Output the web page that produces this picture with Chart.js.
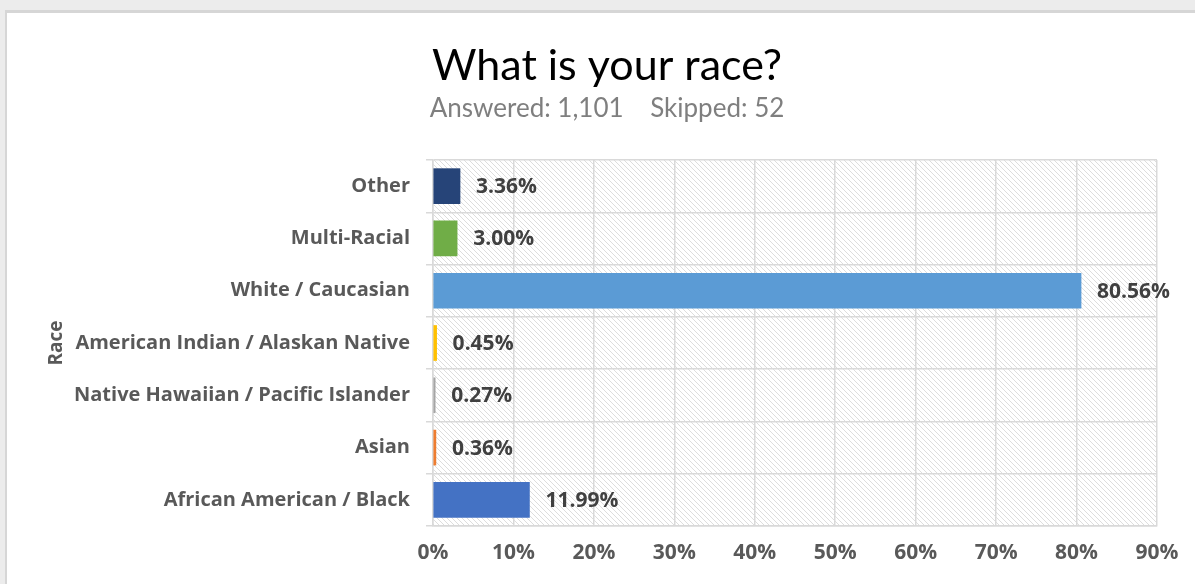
<!DOCTYPE html>
<html>
<head>
<meta charset="utf-8">
<script src="https://cdn.jsdelivr.net/npm/chart.js@4"></script>
<style>
  html, body { margin: 0; padding: 0; }
  body { width: 1195px; height: 584px; background: #ececec; position: relative; overflow: hidden; }
  #frame { position: absolute; left: 5px; top: 10px; right: 0; bottom: 0; background: #d6d6d6; }
  #box { position: absolute; left: 7px; top: 13px; width: 1188px; height: 571px; background: #fff; }
</style>
</head>
<body>
<div id="frame"></div>
<div id="box"><canvas id="chart" width="1188" height="571"></canvas></div>
<script>
// survey answers, top to bottom as shown
const categories = [
  "Other",
  "Multi-Racial",
  "White / Caucasian",
  "American Indian / Alaskan Native",
  "Native Hawaiian / Pacific Islander",
  "Asian",
  "African American / Black",
];
const percents = [3.36, 3.0, 80.56, 0.45, 0.27, 0.36, 11.99];
const barColors = ["#264478", "#70ad47", "#5b9bd5", "#ffc000", "#a5a5a5", "#ed7d31", "#4472c4"];
const xTicks = [0, 10, 20, 30, 40, 50, 60, 70, 80, 90];
const titleText = "What is your race?";
const subtitleText = "Answered: 1,101    Skipped: 52";

const LIGHT = "Lato, sans-serif";
const BOLD = "'Open Sans', sans-serif";

// diagonal hatch for the plot background
function makeHatch() {
  const c = document.createElement("canvas");
  c.width = 5;
  c.height = 5;
  const g = c.getContext("2d");
  g.strokeStyle = "#dddddd";
  g.lineWidth = 1;
  g.beginPath();
  g.moveTo(-1, -1);
  g.lineTo(6, 6);
  g.moveTo(-1, 4);
  g.lineTo(1, 6);
  g.moveTo(4, -1);
  g.lineTo(6, 1);
  g.stroke();
  return g.createPattern(c, "repeat");
}

const hatchBg = {
  id: "hatchBg",
  beforeDraw(chart) {
    const { ctx, chartArea: a } = chart;
    ctx.save();
    ctx.fillStyle = makeHatch();
    ctx.fillRect(a.left, a.top, a.right - a.left, a.bottom - a.top);
    ctx.restore();
  },
};

// title block is placed off-centre in the original, so draw it by hand
const headings = {
  id: "headings",
  afterDraw(chart) {
    const ctx = chart.ctx;
    ctx.save();
    ctx.textAlign = "center";
    ctx.textBaseline = "middle";
    ctx.fillStyle = "#000";
    ctx.font = "43px " + LIGHT;
    ctx.fillText(titleText, 600, 53);
    ctx.fillStyle = "#7f7f7f";
    ctx.font = "26px " + LIGHT;
    ctx.fillText(subtitleText, 600, 96);
    ctx.restore();
  },
};

const valueLabels = {
  id: "valueLabels",
  afterDatasetsDraw(chart) {
    const ctx = chart.ctx;
    const meta = chart.getDatasetMeta(0);
    ctx.save();
    ctx.font = "bold 21px " + BOLD;
    ctx.fillStyle = "#404040";
    ctx.textAlign = "left";
    ctx.textBaseline = "middle";
    meta.data.forEach((bar, i) => {
      ctx.fillText(percents[i].toFixed(2) + "%", bar.x + 16, bar.y + 1);
    });
    ctx.restore();
  },
};

new Chart(document.getElementById("chart"), {
  type: "bar",
  data: {
    labels: categories,
    datasets: [
      {
        data: percents,
        backgroundColor: barColors,
        borderWidth: 0,
        barThickness: 35,
      },
    ],
  },
  plugins: [hatchBg, headings, valueLabels],
  options: {
    indexAxis: "y",
    responsive: false,
    animation: false,
    layout: { padding: { left: 0, right: 38, top: 147, bottom: 0 } },
    plugins: {
      legend: { display: false },
      tooltip: { enabled: false },
    },
    scales: {
      x: {
        min: 0,
        max: 90,
        afterBuildTicks(scale) {
          scale.ticks = xTicks.map((v) => ({ value: v }));
        },
        afterFit(scale) {
          scale.height = 58;
        },
        grid: { color: "#d9d9d9", lineWidth: 1.5, drawTicks: false },
        border: { color: "#d9d9d9", width: 1.5 },
        ticks: {
          padding: 14,
          color: "#595959",
          font: { family: BOLD, size: 21, weight: "bold" },
          callback: (v) => v + "%",
        },
      },
      y: {
        afterFit(scale) {
          scale.width = 426;
        },
        grid: { color: "#d9d9d9", lineWidth: 1.5, tickLength: 7 },
        border: { color: "#d9d9d9", width: 1.5 },
        ticks: {
          padding: 16,
          color: "#595959",
          font: { family: BOLD, size: 20, weight: "bold" },
        },
        title: {
          display: true,
          text: "Race",
          color: "#595959",
          font: { family: BOLD, size: 19, weight: "bold" },
          padding: { top: 38, bottom: 0 },
        },
      },
    },
  },
});
</script>
</body>
</html>
